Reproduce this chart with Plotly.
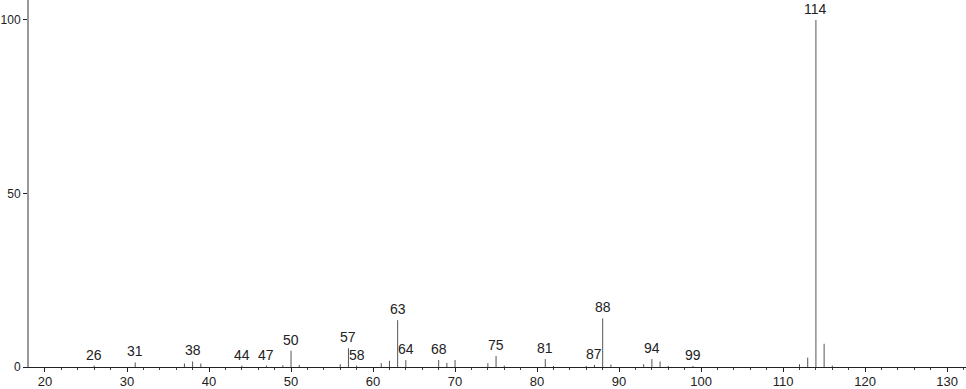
import plotly.graph_objects as go

mz = [26, 31, 37, 38, 39, 44, 47, 49, 50, 51, 56, 57, 58, 61, 62, 63, 64,
      68, 69, 70, 74, 75, 76, 81, 82, 86, 87, 88, 89, 93, 94, 95, 96, 99,
      112, 113, 114, 115, 116]
intensity = [0.4, 1.3, 1.0, 1.6, 1.0, 0.4, 0.4, 0.5, 4.7, 0.6, 0.8, 5.4, 0.4,
             1.1, 1.8, 13.5, 2.0, 2.0, 1.2, 2.0, 1.1, 3.2, 0.4, 2.3, 0.3, 0.3,
             0.6, 14.0, 0.7, 0.8, 2.3, 1.6, 0.3, 0.3, 0.8, 2.7, 100.0, 6.7, 0.4]
labeled = [26, 31, 38, 44, 47, 50, 57, 58, 63, 64, 68, 75, 81, 87, 88, 94, 99, 114]
x_ticks = [20, 30, 40, 50, 60, 70, 80, 90, 100, 110, 120, 130]
y_ticks = [0, 50, 100]

xs, ys = [], []
for m, v in zip(mz, intensity):
    xs += [m, m, None]
    ys += [0, v, None]

FONT = "Liberation Sans"

fig = go.Figure()
fig.add_trace(go.Scatter(x=xs, y=ys, mode="lines",
                         line=dict(color="#555555", width=1),
                         hoverinfo="skip", showlegend=False))

lookup = dict(zip(mz, intensity))
for m in labeled:
    fig.add_annotation(x=m, y=lookup[m], text=str(m), showarrow=False,
                       yanchor="bottom", yshift=1,
                       font=dict(size=14, color="#222222", family=FONT))

fig.update_layout(
    width=966, height=389,
    margin=dict(l=29, r=0, t=0, b=22),
    plot_bgcolor="white", paper_bgcolor="white",
    font=dict(family=FONT, size=13, color="#222222"),
    xaxis=dict(range=[18.05, 132.3], tickvals=x_ticks, ticks="outside",
               ticklen=4, tickcolor="#222222", showgrid=False, zeroline=False,
               showline=True, linecolor="#222222", linewidth=1,
               automargin=False, ticklabelstandoff=-2,
               minor=dict(dtick=2, ticks="outside", ticklen=2,
                          tickcolor="#444444"),
               tickfont=dict(size=13, family=FONT)),
    yaxis=dict(range=[0, 105.76], tickvals=y_ticks, ticks="outside",
               ticklen=4, tickcolor="#222222", showgrid=False, zeroline=False,
               showline=True, linecolor="#999999", linewidth=2,
               automargin=False,
               tickfont=dict(size=12, family=FONT)),
)

fig.write_html("out.html")
